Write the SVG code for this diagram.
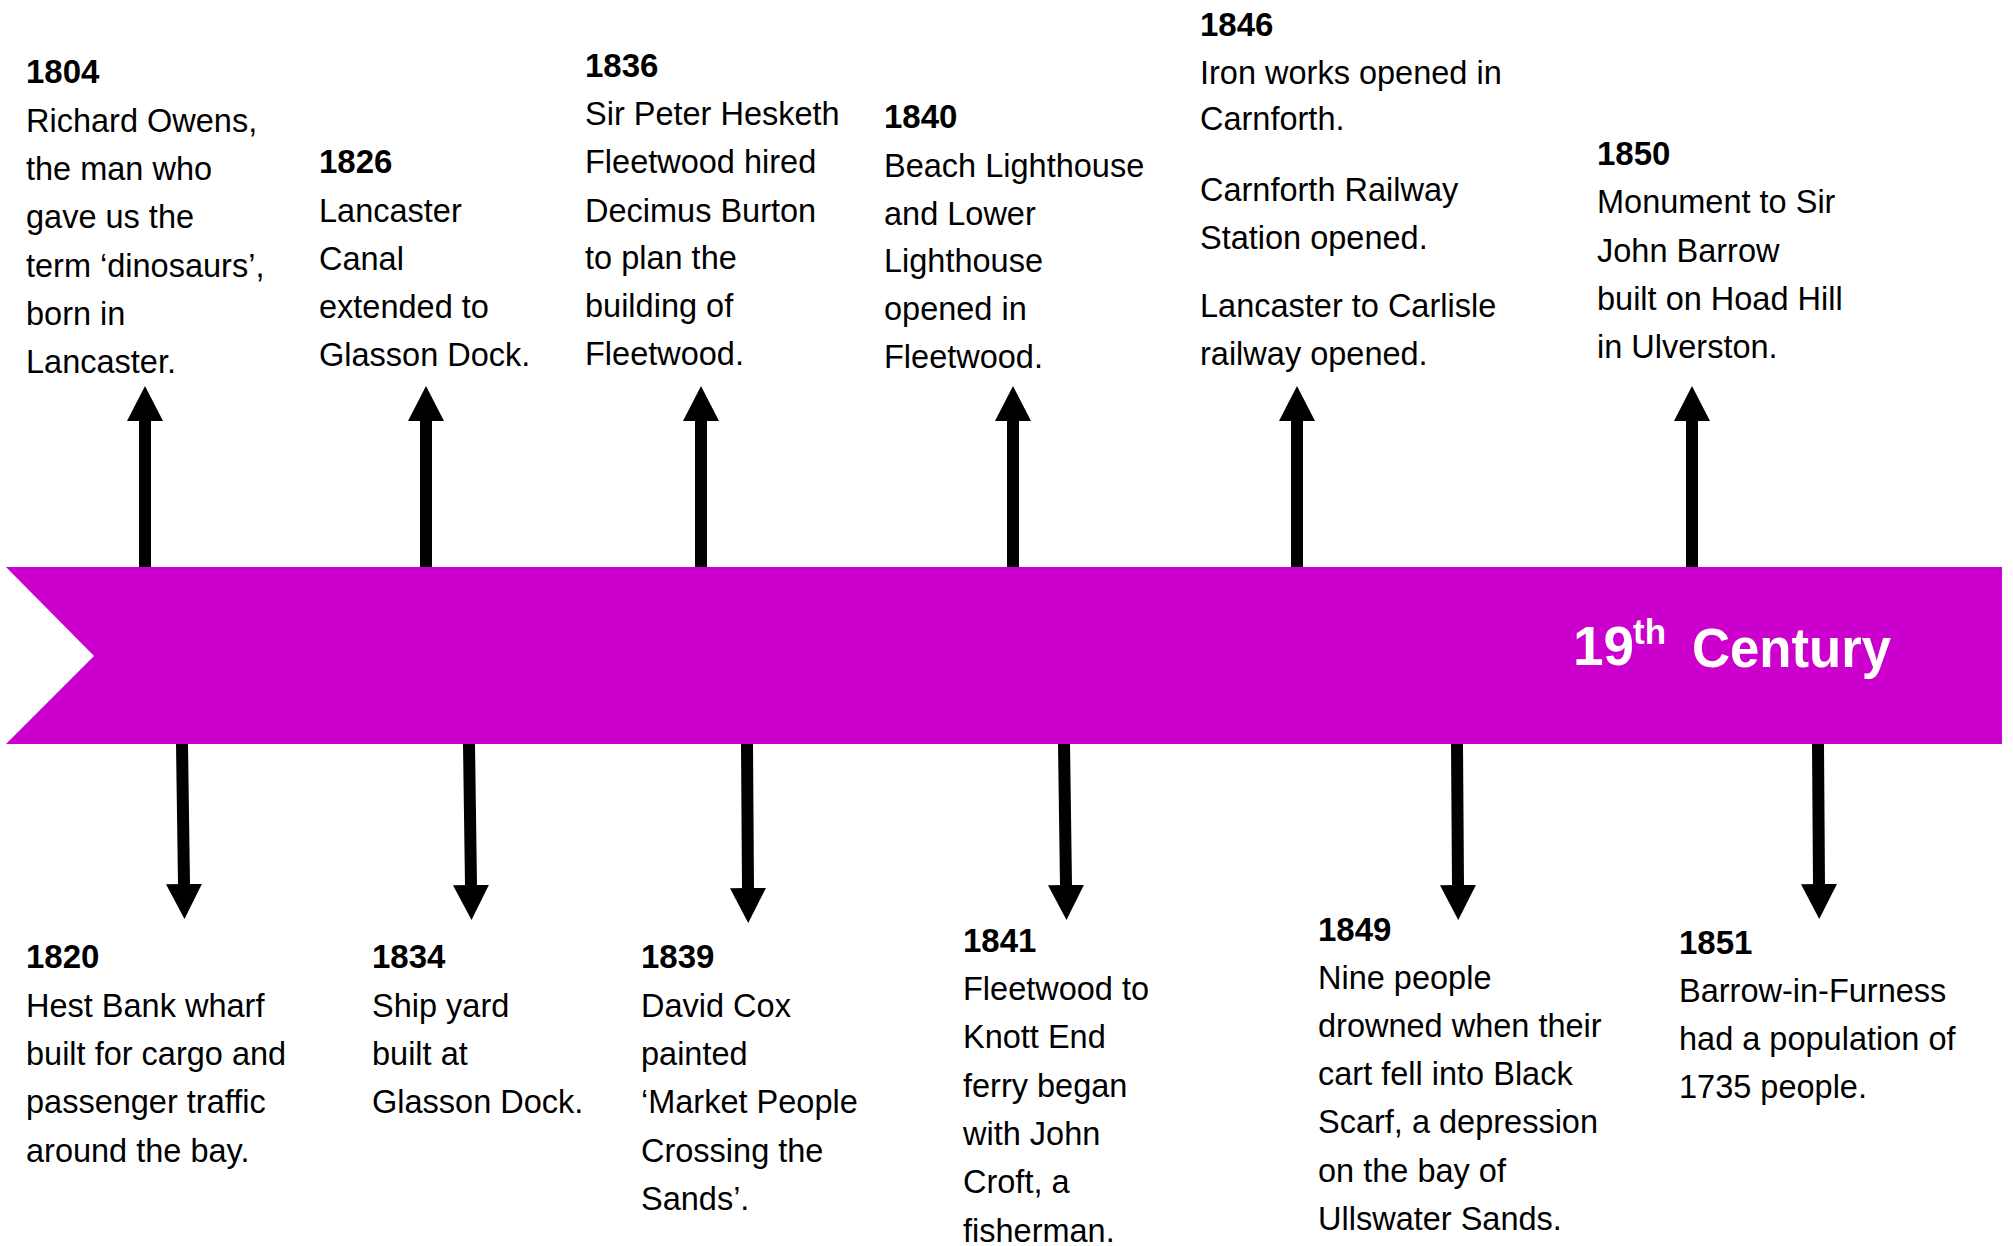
<svg xmlns="http://www.w3.org/2000/svg" width="2013" height="1246" viewBox="0 0 2013 1246">
  <defs>
    <marker id="head" markerUnits="userSpaceOnUse" markerWidth="36" markerHeight="36" refX="0" refY="18" orient="auto" viewBox="0 0 36 36">
      <path d="M0,0 L35,18 L0,36 Z" fill="#000"/>
    </marker>
    <style>
      .band { fill: #CC00CC; }
      .conn { stroke: #000; stroke-width: 12; fill: none; marker-end: url(#head); }
      .year { font-family: "Liberation Sans", Arial, sans-serif; font-weight: bold; font-size: 33px; fill: #000; }
      .body { font-family: "Liberation Sans", Arial, sans-serif; font-size: 32.5px; fill: #000; }
      .title { font-family: "Liberation Sans", Arial, sans-serif; font-weight: bold; fill: #fff; }
    </style>
  </defs>
  <rect width="2013" height="1246" fill="#fff"/>

  <g id="timeline">
    <polygon class="band" points="6,567 2002,567 2002,744 6,744 94,656"/>
    <text class="title" x="1573" y="665" font-size="55">19</text>
    <text class="title" x="1633" y="644" font-size="35">th</text>
    <text class="title" x="1692" y="667" font-size="55" textLength="199" lengthAdjust="spacingAndGlyphs">Century</text>
  </g>

  <g id="connectors">
    <line class="conn" x1="145" y1="567" x2="145" y2="421"/>
    <line class="conn" x1="426" y1="567" x2="426" y2="421"/>
    <line class="conn" x1="701" y1="567" x2="701" y2="421"/>
    <line class="conn" x1="1013" y1="567" x2="1013" y2="421"/>
    <line class="conn" x1="1297" y1="567" x2="1297" y2="421"/>
    <line class="conn" x1="1692" y1="567" x2="1692" y2="421"/>

    <line class="conn" x1="182" y1="744" x2="184" y2="884"/>
    <line class="conn" x1="469" y1="744" x2="471" y2="885"/>
    <line class="conn" x1="747" y1="744" x2="748" y2="888"/>
    <line class="conn" x1="1064" y1="744" x2="1066" y2="885"/>
    <line class="conn" x1="1457" y1="744" x2="1458" y2="885"/>
    <line class="conn" x1="1818" y1="744" x2="1819" y2="884"/>
  </g>

  <g id="e1804">
    <text class="year" x="26" y="83">1804</text>
    <text class="body">
      <tspan x="26" y="132">Richard Owens,</tspan>
      <tspan x="26" y="180">the man who</tspan>
      <tspan x="26" y="228">gave us the</tspan>
      <tspan x="26" y="277">term ‘dinosaurs’,</tspan>
      <tspan x="26" y="325">born in</tspan>
      <tspan x="26" y="373">Lancaster.</tspan>
    </text>
  </g>

  <g id="e1826">
    <text class="year" x="319" y="173">1826</text>
    <text class="body">
      <tspan x="319" y="222">Lancaster</tspan>
      <tspan x="319" y="270">Canal</tspan>
      <tspan x="319" y="318">extended to</tspan>
      <tspan x="319" y="366">Glasson Dock.</tspan>
    </text>
  </g>

  <g id="e1836">
    <text class="year" x="585" y="77">1836</text>
    <text class="body">
      <tspan x="585" y="125">Sir Peter Hesketh</tspan>
      <tspan x="585" y="173">Fleetwood hired</tspan>
      <tspan x="585" y="222">Decimus Burton</tspan>
      <tspan x="585" y="269">to plan the</tspan>
      <tspan x="585" y="317">building of</tspan>
      <tspan x="585" y="365">Fleetwood.</tspan>
    </text>
  </g>

  <g id="e1840">
    <text class="year" x="884" y="128">1840</text>
    <text class="body">
      <tspan x="884" y="177">Beach Lighthouse</tspan>
      <tspan x="884" y="225">and Lower</tspan>
      <tspan x="884" y="272">Lighthouse</tspan>
      <tspan x="884" y="320">opened in</tspan>
      <tspan x="884" y="368">Fleetwood.</tspan>
    </text>
  </g>

  <g id="e1846">
    <text class="year" x="1200" y="36">1846</text>
    <text class="body">
      <tspan x="1200" y="84">Iron works opened in</tspan>
      <tspan x="1200" y="130">Carnforth.</tspan>
      <tspan x="1200" y="201">Carnforth Railway</tspan>
      <tspan x="1200" y="249">Station opened.</tspan>
      <tspan x="1200" y="317">Lancaster to Carlisle</tspan>
      <tspan x="1200" y="365">railway opened.</tspan>
    </text>
  </g>

  <g id="e1850">
    <text class="year" x="1597" y="165">1850</text>
    <text class="body">
      <tspan x="1597" y="213">Monument to Sir</tspan>
      <tspan x="1597" y="262">John Barrow</tspan>
      <tspan x="1597" y="310">built on Hoad Hill</tspan>
      <tspan x="1597" y="358">in Ulverston.</tspan>
    </text>
  </g>

  <g id="e1820">
    <text class="year" x="26" y="968">1820</text>
    <text class="body">
      <tspan x="26" y="1017">Hest Bank wharf</tspan>
      <tspan x="26" y="1065">built for cargo and</tspan>
      <tspan x="26" y="1113">passenger traffic</tspan>
      <tspan x="26" y="1162">around the bay.</tspan>
    </text>
  </g>

  <g id="e1834">
    <text class="year" x="372" y="968">1834</text>
    <text class="body">
      <tspan x="372" y="1017">Ship yard</tspan>
      <tspan x="372" y="1065">built at</tspan>
      <tspan x="372" y="1113">Glasson Dock.</tspan>
    </text>
  </g>

  <g id="e1839">
    <text class="year" x="641" y="968">1839</text>
    <text class="body">
      <tspan x="641" y="1017">David Cox</tspan>
      <tspan x="641" y="1065">painted</tspan>
      <tspan x="641" y="1113">‘Market People</tspan>
      <tspan x="641" y="1162">Crossing the</tspan>
      <tspan x="641" y="1210">Sands’.</tspan>
    </text>
  </g>

  <g id="e1841">
    <text class="year" x="963" y="952">1841</text>
    <text class="body">
      <tspan x="963" y="1000">Fleetwood to</tspan>
      <tspan x="963" y="1048">Knott End</tspan>
      <tspan x="963" y="1097">ferry began</tspan>
      <tspan x="963" y="1145">with John</tspan>
      <tspan x="963" y="1193">Croft, a</tspan>
      <tspan x="963" y="1242">fisherman.</tspan>
    </text>
  </g>

  <g id="e1849">
    <text class="year" x="1318" y="941">1849</text>
    <text class="body">
      <tspan x="1318" y="989">Nine people</tspan>
      <tspan x="1318" y="1037">drowned when their</tspan>
      <tspan x="1318" y="1085">cart fell into Black</tspan>
      <tspan x="1318" y="1133">Scarf, a depression</tspan>
      <tspan x="1318" y="1182">on the bay of</tspan>
      <tspan x="1318" y="1230">Ullswater Sands.</tspan>
    </text>
  </g>

  <g id="e1851">
    <text class="year" x="1679" y="954">1851</text>
    <text class="body">
      <tspan x="1679" y="1002">Barrow-in-Furness</tspan>
      <tspan x="1679" y="1050">had a population of</tspan>
      <tspan x="1679" y="1098">1735 people.</tspan>
    </text>
  </g>
</svg>
